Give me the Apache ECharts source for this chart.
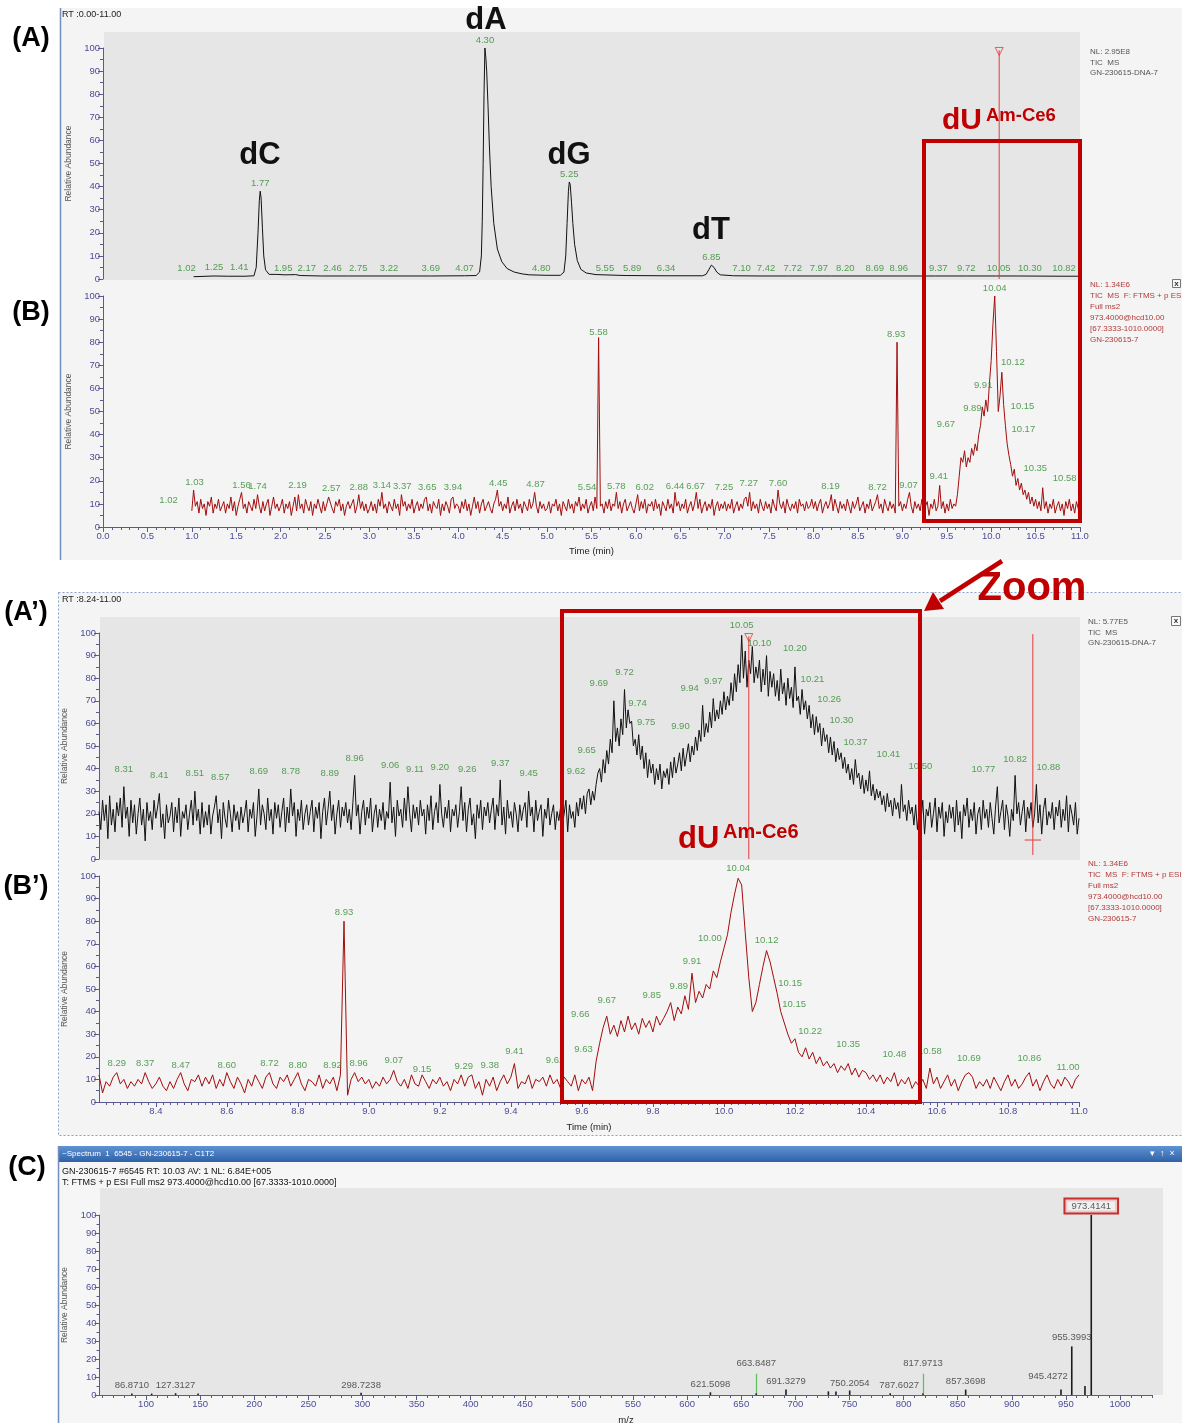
<!DOCTYPE html>
<html>
<head>
<meta charset="utf-8">
<script src="https://cdn.jsdelivr.net/npm/echarts@6/dist/echarts.min.js"></script>
<style>
  html, body { margin: 0; padding: 0; background: #fff; }
  #main { width: 1182px; height: 1423px; }
</style>
</head>
<body>
<div id="main"></div>
<script>
const FONT = '"Liberation Sans", Arial, Helvetica, sans-serif';

// ---- (A) TIC 0-11 min, [time, relative abundance] ----
const aTrace = [
  [1.02,1.0],[1.25,1.3],[1.41,1.2],[1.60,1.2],[1.70,1.4],[1.725,5],[1.745,20],[1.76,34],[1.77,38],[1.78,35],
  [1.795,22],[1.81,10],[1.83,4],[1.87,2.0],[1.95,2.0],[2.05,1.8],[2.17,1.9],[2.22,1.5],[2.46,1.3],[2.75,1.3],
  [3.22,1.3],[3.69,1.3],[4.07,1.4],[4.20,1.5],[4.24,3],[4.26,10],[4.27,25],[4.28,50],[4.29,80],[4.30,100],
  [4.31,96],[4.32,90],[4.335,75],[4.35,58],[4.37,40],[4.40,24],[4.44,13],[4.49,7.5],[4.55,4.5],[4.63,3],
  [4.72,2.2],[4.80,1.8],[5.00,1.6],[5.15,1.6],[5.19,3],[5.21,10],[5.225,24],[5.24,38],[5.25,42],[5.26,41],
  [5.275,33],[5.29,24],[5.31,15],[5.34,8],[5.38,4.2],[5.44,2.6],[5.55,1.9],[5.89,1.5],[6.34,1.4],[6.75,1.4],
  [6.79,2.0],[6.82,4],[6.85,6],[6.88,5],[6.91,3],[6.95,1.8],[7.10,1.4],[7.42,1.3],[7.72,1.3],[7.97,1.3],
  [8.20,1.3],[8.69,1.3],[8.96,1.3],[9.37,1.3],[9.72,1.3],[10.05,1.3],[10.30,1.3],[10.82,1.2],[11.0,1.2]
];
const aLabRT = [1.02,1.25,1.41,1.77,1.95,2.17,2.46,2.75,3.22,3.69,4.07,4.30,4.80,5.25,5.55,5.89,6.34,6.85,7.10,7.42,7.72,7.97,8.20,8.69,8.96,9.37,9.72,10.05,10.30,10.82];
const aLabH  = [1.3,1.6,1.6,38,1.3,1.3,1.3,1.3,1.3,1.3,1.3,100,1.3,42,1.3,1.3,1.3,6,1.3,1.3,1.3,1.3,1.3,1.3,1.3,1.3,1.3,1.3,1.3,1.3];
const aNudge = [-7,0,11,0,7,11,11,11,0,0,0,0,12,0,9,6,0,0,8,4,4,8,14,0,0,3,0,3,12,0];
const aCursor = 10.09;

// ---- (B) ms2 trace 1.00-11.00 min, one value every 0.02 min ----
const bStart = 1.00, bStep = 0.02;
const bValues = [
  7,16,9,11,6,12,8,10,5,11, 9,13,6,10,8,12,7,9,11,6, 10,8,13,7,11,5,9,12,15,8, 10,6,11,9,7,12,8,14,9,6, 11,7,10,12,5,9,13,8,10,7,
  9,12,6,10,8,11,5,9,13,7, 14,8,10,6,12,9,7,11,5,10, 8,12,9,6,11,7,10,13,13,8, 6,11,9,12,7,10,5,9,11,8, 10,12,6,9,14,8,11,7,10,6,
  8,11,7,10,6,12,9,15,8,10, 6,11,9,7,12,8,10,5,14,9, 11,7,10,8,12,6,9,11,7,10, 8,12,13,7,10,6,11,9,8,12, 5,10,7,11,9,6,12,13,8,10,
  9,6,11,8,12,7,10,5,9,13, 8,11,6,10,12,7,9,11,8,6, 10,12,16,9,11,7,10,8,13,6, 9,11,7,12,8,10,6,11,9,7, 12,8,10,15,9,6,11,8,10,7,
  8,11,6,10,9,12,7,10,5,11, 9,7,12,8,10,6,11,9,13,7, 10,8,12,6,9,11,7,13,8,82, 9,10,6,11,8,12,7,10,9,15, 8,11,6,10,12,7,9,11,8,6,
  10,14,7,11,8,12,6,10,9,11, 7,12,8,10,5,11,9,7,12,8, 10,6,15,9,11,7,10,8,12,6, 9,11,7,10,15,8,12,6,9,11, 7,10,8,12,5,9,11,7,10,8,
  11,7,10,8,12,6,9,11,7,10, 8,12,13,9,15,7,11,8,10,6, 12,9,7,11,8,10,6,12,9,7, 16,10,8,11,6,12,9,7,10,8, 11,6,12,9,10,7,11,8,9,12,
  8,11,7,10,12,6,9,11,8,10, 14,7,12,9,6,11,8,10,7,12, 9,6,11,8,10,13,7,9,11,6, 10,8,12,7,9,11,14,8,10,6, 12,9,7,11,8,10,6,80,9,11,
  7,10,8,12,15,9,6,11,8,10, 7,12,6,9,11,5,10,8,12,7, 9,18,8,11,6,10,7,12,8,10, 9,14,22,30,28,33,26,30,28,34, 31,36,33,40,44,52,48,55,50,62,
  72,88,100,76,50,57,67,53,44,36, 31,27,22,25,18,21,16,19,14,16, 12,15,10,13,9,12,8,11,7,17, 8,11,6,10,8,12,6,9,11,7, 10,5,11,8,12,7,10,6,11,8,
  4
];
const bLabRT = [1.02,1.03,1.56,1.74,2.19,2.57,2.88,3.14,3.37,3.65,3.94,4.45,4.87,5.54,5.58,5.78,6.02,6.44,6.67,7.25,7.27,7.60,8.19,8.72,8.93,9.07,9.41,9.67,9.89,9.91,10.04,10.12,10.15,10.17,10.35,10.58];
const bLabH  = [8.2,16,14.7,14.3,14.7,13.4,13.9,14.7,14.3,13.9,13.9,15.6,15.2,13.9,81,14.3,13.9,14.3,14.3,13.9,15.6,15.6,14.3,13.9,80,14.7,18.6,41,48,58,100,68,49,39,22,17.7];
const bNudge = [-25,0,0,0,0,0,0,0,0,0,0,0,0,-8,0,0,7,0,0,-23,0,0,0,0,0,0,0,-16,-9,0,0,11,18,17,13,22];

// ---- (A') TIC 8.24-11.00 min, one value every 0.005 min ----
const apStart = 8.24, apStep = 0.005;
const apValues = [
  21,13,26,17,24,9,28,15,22,12,25,19,27,14,32,18,23,10,26,16,
  24,11,20,27,15,22,8,25,17,21,13,26,18,23,29,14,20,9,24,16,
  19,25,12,23,16,27,10,21,18,24,13,20,26,15,30,17,22,11,25,14,
  21,15,24,11,19,23,28,16,22,9,25,18,14,26,20,12,24,17,21,13,
  23,16,20,26,12,22,18,25,10,19,31,15,24,20,13,27,17,22,11,25,
  18,24,14,21,27,12,23,16,31,19,25,10,22,17,26,13,20,24,15,21,
  26,12,23,18,25,9,21,27,15,22,30,17,24,11,20,26,14,23,19,25,
  16,22,13,25,37,19,24,11,21,26,15,23,18,27,12,20,24,14,22,17,
  25,13,21,18,34,16,23,10,26,19,22,14,27,17,32,20,12,24,18,23,
  15,26,19,22,11,24,17,28,13,21,25,16,33,20,14,23,18,26,12,22,
  19,24,14,21,32,17,25,12,22,27,15,20,9,24,18,26,13,23,19,25,
  16,22,27,13,24,19,35,15,23,11,26,18,21,14,25,20,12,24,17,22,
  25,14,30,19,23,12,26,17,21,24,10,22,18,27,15,20,24,13,21,17,
  23,15,20,26,12,24,18,21,14,25,19,27,22,28,20,29,31,24,30,26,
  33,38,40,34,44,38,48,42,53,47,70,52,58,50,62,55,75,58,66,60,
  61,50,53,46,55,44,50,40,47,36,44,38,42,33,40,35,42,31,39,36,
  40,33,43,36,45,38,42,47,39,49,41,46,51,43,50,46,54,48,57,52,
  68,54,60,56,65,58,71,61,66,62,70,64,74,66,72,68,78,70,82,74,
  86,78,99,80,92,76,88,82,94,78,85,80,88,74,84,77,90,72,83,76,
  82,72,79,70,84,73,78,68,80,71,76,67,85,70,72,64,75,66,70,62,
  68,58,64,55,63,56,60,50,58,52,55,47,54,46,52,43,49,44,47,40,
  45,38,42,35,40,33,44,36,38,31,37,29,35,30,39,28,33,26,31,27,
  30,24,28,21,29,23,26,19,27,22,25,18,33,21,24,17,26,20,23,15,
  24,13,21,17,26,11,22,19,25,14,20,27,12,23,18,25,10,21,16,24,
  18,23,12,26,15,21,9,24,19,27,14,22,17,25,11,20,23,13,26,18,
  22,14,25,18,11,23,32,16,21,26,13,24,19,10,22,17,37,20,25,15,
  21,26,12,23,18,25,14,20,33,16,24,11,22,27,15,21,18,25,13,23,
  19,26,14,22,17,28,12,24,20,15,25,11,18
];
const apLabRT = [8.31,8.41,8.51,8.57,8.69,8.78,8.89,8.96,9.06,9.11,9.20,9.26,9.37,9.45,9.62,9.65,9.69,9.72,9.74,9.75,9.90,9.94,9.97,10.05,10.10,10.20,10.21,10.26,10.30,10.37,10.41,10.50,10.77,10.82,10.88];
const apLabH  = [36.3,33.6,34.5,32.7,35.4,35.4,34.5,41.2,38.1,36.3,37.2,36.3,38.9,34.5,35.4,44.7,74.3,79.2,65.5,57.1,55.3,72.1,75.2,100,92,89.8,76.1,67.3,58,48.2,42.9,37.6,36.3,40.7,37.2];
const apNudge = [0,0,0,4,0,0,0,0,0,7,0,6,0,0,-13,-13,-15,0,6,11,-8,-13,0,0,0,0,14,13,11,0,19,19,-14,0,12];
const apCursors = [10.07, 10.87];

// ---- (B') ms2 trace 8.24-11.00 min, one value every 0.01 min ----
const bpStart = 8.24, bpStep = 0.01;
const bpValues = [
  12,4,9,7,11,13,8,10,6,9,  7,10,8,13,9,6,8,11,7,5,  9,6,10,13,8,5,10,9,12,7,  11,8,12,6,10,7,13,9,6,11,
  8,4,10,7,12,9,6,11,13,8,  6,11,9,12,7,10,13,8,5,10,  9,7,12,6,10,8,11,5,12,80,  3,10,13,9,11,8,10,6,9,7,
  11,8,10,14,9,7,10,6,12,8,  7,12,9,6,10,8,11,7,9,5,  10,8,12,7,11,12,6,9,3,10,  7,11,5,9,12,8,11,17,6,9,
  8,12,6,10,9,11,7,12,8,10,  6,11,9,7,12,5,10,8,11,5,  18,26,33,38,30,34,29,36,31,38,  32,35,30,37,33,36,31,38,34,37,
  40,44,36,42,39,47,41,57,44,49,  46,52,50,58,55,62,68,74,84,92,  99,96,75,55,40,44,52,60,67,62,  55,48,40,35,30,26,28,22,20,24,
  19,22,17,20,16,18,15,17,13,16,  14,17,12,15,11,14,13,10,12,9,  12,8,11,9,13,7,10,8,11,6,  9,7,10,6,15,8,11,6,9,12,
  7,10,5,9,12,13,11,6,9,7,  10,6,11,8,5,9,12,7,10,6,  8,11,13,7,10,5,9,12,8,6,  10,7,11,9,6,10,12
];
const bpLabRT = [8.29,8.37,8.47,8.60,8.72,8.80,8.92,8.93,8.96,9.07,9.15,9.29,9.38,9.41,9.62,9.63,9.66,9.67,9.85,9.89,9.91,10.00,10.04,10.12,10.15,10.15,10.22,10.35,10.48,10.58,10.69,10.86,11.00];
const bpLabH  = [13.7,13.7,12.8,12.8,13.7,12.8,12.8,80.5,13.7,15,11.1,12.4,12.8,19,15,19.9,35.4,41.6,43.8,47.8,58.8,69,100,68.1,49.1,39.8,27.9,22.1,17.7,19,15.9,15.9,11.9];
const bpNudge = [0,0,0,0,0,0,-8,0,4,0,0,-8,-14,0,-34,-9,-23,0,-19,-6,0,-14,0,0,13,17,8,0,0,0,0,0,-11];

// ---- (C) ms2 spectrum ----
const cMz  = [86.871,105.2,127.3127,148.1,298.7238,621.5098,663.8487,691.3279,730.5,737.5,750.2054,787.6027,817.9713,857.3698,945.4272,955.3993,967.6,973.4141];
const cInt = [0.8,0.8,1.0,0.8,1.2,1.5,1.0,3.0,2.0,2.0,2.5,1.0,1.0,3.0,3.0,27,5,100];
const cLabMz = [86.8710,127.3127,298.7238,621.5098,663.8487,691.3279,750.2054,787.6027,817.9713,857.3698,945.4272,955.3993,973.4141];
const cLabH  = [1.2,1.2,1.2,1.6,13.3,3.2,2.2,1.2,13.3,3.2,6.1,27.8,100];
const cNudge = [0,0,0,0,0,0,0,9,0,0,-13,0,0];
const cBase = 973.4141;

// axis tick positions
const bpLabelTicks = [8.4,8.6,8.8,9.0,9.2,9.4,9.6,9.8,10.0,10.2,10.4,10.6,10.8,11.0];
const bpMinorTicks = [];
for (let v = 826; v <= 1100; v += 2) bpMinorTicks.push(v / 100);
const cLabelTicks = [];
for (let v = 100; v <= 1000; v += 50) cLabelTicks.push(v);
const cMinorTicks = [];
for (let v = 60; v <= 1030; v += 10) cMinorTicks.push(v);

const AXC = '#5a5a90';
const LABC = '#4c4c96';
const GREEN = '#2f8a2f';
const TRACE_RED = '#a20d0d';
const CURSOR = '#e23b3b';

const series = (start, step, vals) => vals.map((v, i) => [+(start + i * step).toFixed(3), v]);

function yAxis(grid, gap) {
  return {
    type: 'value', gridIndex: grid, min: 0, max: 100, interval: 10,
    name: 'Relative Abundance', nameLocation: 'middle', nameGap: gap, nameRotate: 90,
    nameTextStyle: { fontSize: 8.5, color: '#555', fontFamily: FONT },
    axisLine: { show: true, lineStyle: { color: AXC, width: 1 } },
    axisTick: { show: true, length: 5, lineStyle: { color: AXC } },
    minorTick: { show: true, splitNumber: 2, length: 3, lineStyle: { color: AXC } },
    axisLabel: { color: LABC, fontSize: 9.5, fontFamily: FONT, margin: 3 },
    splitLine: { show: false }, minorSplitLine: { show: false }
  };
}

function bareX(grid, min, max) {
  return {
    type: 'value', gridIndex: grid, min, max, position: 'bottom',
    axisLine: { show: false }, axisTick: { show: false }, axisLabel: { show: false },
    splitLine: { show: false }
  };
}

function labels(xi, yi, rts, hs, nudge, color, digits, extra) {
  return {
    type: 'scatter', xAxisIndex: xi, yAxisIndex: yi, symbolSize: 1, silent: true, z: 6, clip: false,
    itemStyle: { color: 'rgba(0,0,0,0)' },
    data: rts.map((t, i) => {
      const item = { value: [t, hs[i]], label: { offset: [nudge[i] || 0, 0] } };
      if (extra) extra(t, item);
      return item;
    }),
    label: {
      show: true, position: 'top', distance: 2, color, fontSize: 9.5, fontFamily: FONT,
      formatter: p => p.value[0].toFixed(digits)
    }
  };
}

function trace(xi, yi, data, color, z) {
  return {
    type: 'line', xAxisIndex: xi, yAxisIndex: yi, data, symbol: 'none', showSymbol: false,
    lineStyle: { color, width: 1 }, itemStyle: { color }, silent: true, z: z || 3
  };
}

// cursor segments in the chromatograms
function cursorSeries(xi, yi, segs) {
  return segs.map(s => trace(xi, yi, s, CURSOR, 4));
}

// leader lines in the spectrum, from a peak up to its raised label
const cLeaders = [];
cLabMz.forEach((m, i) => {
  const k = cMz.indexOf(m);
  const peak = k >= 0 ? cInt[k] : 0;
  if (cLabH[i] - peak > 5 && !cNudge[i]) {
    cLeaders.push([{ coord: [m, peak] }, { coord: [m, cLabH[i] - 1.5] }]);
  }
});

const txt = (x, y, text, font, fill, align, extra) => Object.assign({
  type: 'text', x, y, z: 50,
  style: { text, font, fill, align: align || 'left', verticalAlign: 'middle' }
}, extra || {});

const infoA = 'NL: 2.95E8\nTIC  MS\nGN-230615-DNA-7';
const infoB = 'NL: 1.34E6\nTIC  MS  F: FTMS + p ESI\nFull ms2\n973.4000@hcd10.00\n[67.3333-1010.0000]\nGN-230615-7';
const infoAp = 'NL: 5.77E5\nTIC  MS\nGN-230615-DNA-7';

const RED = '#c00000';
const small = '8px ' + FONT;

const graphics = [
  // panel (A)+(B)
  { type: 'rect', z: -10, shape: { x: 61, y: 8, width: 1121, height: 552 }, style: { fill: '#f4f4f4' } },
  { type: 'line', z: -9, shape: { x1: 60.5, y1: 8, x2: 60.5, y2: 560 }, style: { stroke: '#7190c0', lineWidth: 1.5 } },
  { type: 'rect', z: -9, shape: { x: 104, y: 32, width: 976, height: 248 }, style: { fill: '#e6e6e6' } },
  // panel (A')+(B')
  { type: 'rect', z: -10, shape: { x: 58.5, y: 592.5, width: 1124, height: 543 }, style: { fill: '#f4f4f4', stroke: '#8aa3cc', lineWidth: 1, lineDash: [2, 2] } },
  { type: 'rect', z: -9, shape: { x: 100, y: 617, width: 980, height: 243 }, style: { fill: '#e6e6e6' } },
  // panel (C)
  { type: 'rect', z: -10, shape: { x: 58, y: 1162, width: 1124, height: 261 }, style: { fill: '#f6f6f6' } },
  { type: 'rect', z: -9, shape: { x: 58, y: 1146, width: 1124, height: 16 }, style: {
      fill: new echarts.graphic.LinearGradient(0, 0, 0, 1, [{ offset: 0, color: '#5f93d3' }, { offset: 1, color: '#2f61a8' }]) } },
  { type: 'line', z: -9, shape: { x1: 58.5, y1: 1146, x2: 58.5, y2: 1423 }, style: { stroke: '#7190c0', lineWidth: 1.5 } },
  { type: 'rect', z: -9, shape: { x: 100, y: 1188, width: 1063, height: 207 }, style: { fill: '#e6e6e6' } },

  // header texts
  txt(62, 15, 'RT :0.00-11.00', '9px ' + FONT, '#222'),
  txt(62, 600, 'RT :8.24-11.00', '9px ' + FONT, '#222'),
  txt(62, 1154, '~Spectrum  1  6545 - GN-230615-7 - C1T2', small, '#fff'),
  txt(1150, 1154, '\u25BE  \u2191  \u00D7', '9px ' + FONT, '#fff'),
  txt(62, 1172, 'GN-230615-7 #6545 RT: 10.03 AV: 1 NL: 6.84E+005', '9px ' + FONT, '#111'),
  txt(62, 1183, 'T: FTMS + p ESI Full ms2 973.4000@hcd10.00 [67.3333-1010.0000]', '9px ' + FONT, '#111'),

  // info blocks
  { type: 'text', x: 1090, y: 47, z: 50, style: { text: infoA, font: small, fill: '#555', lineHeight: 10.5 } },
  { type: 'text', x: 1090, y: 279, z: 50, style: { text: infoB, font: small, fill: '#b13a3a', lineHeight: 11 } },
  { type: 'text', x: 1088, y: 617, z: 50, style: { text: infoAp, font: small, fill: '#555', lineHeight: 10.5 } },
  { type: 'text', x: 1088, y: 858, z: 50, style: { text: infoB, font: small, fill: '#b13a3a', lineHeight: 11 } },
  { type: 'rect', z: 50, shape: { x: 1172.5, y: 279.5, width: 8, height: 8 }, style: { fill: '#f8f8f8', stroke: '#777', lineWidth: 1 } },
  txt(1176.5, 284, 'x', 'bold 8px ' + FONT, '#333', 'center'),
  { type: 'rect', z: 50, shape: { x: 1171.5, y: 616.5, width: 9, height: 9 }, style: { fill: '#f8f8f8', stroke: '#777', lineWidth: 1 } },
  txt(1176, 621, 'x', 'bold 8px ' + FONT, '#333', 'center'),

  // panel letters
  txt(31, 39, '(A)', 'bold 27px ' + FONT, '#000', 'center'),
  txt(31, 313, '(B)', 'bold 27px ' + FONT, '#000', 'center'),
  txt(26, 613, '(A\u2019)', 'bold 27px ' + FONT, '#000', 'center'),
  txt(26, 887, '(B\u2019)', 'bold 27px ' + FONT, '#000', 'center'),
  txt(27, 1168, '(C)', 'bold 27px ' + FONT, '#000', 'center'),

  // nucleoside names
  txt(260, 155, 'dC', 'bold 31px ' + FONT, '#111', 'center'),
  txt(486, 20, 'dA', 'bold 31px ' + FONT, '#111', 'center'),
  txt(569, 155, 'dG', 'bold 31px ' + FONT, '#111', 'center'),
  txt(711, 230, 'dT', 'bold 31px ' + FONT, '#111', 'center'),

  // dU(Am-Ce6) labels
  txt(942, 121, 'dU', 'bold 30px ' + FONT, RED, 'left'),
  txt(986, 116, 'Am-Ce6', 'bold 18.5px ' + FONT, RED, 'left'),
  txt(678, 839, 'dU', 'bold 31px ' + FONT, RED, 'left'),
  txt(723, 832, 'Am-Ce6', 'bold 20px ' + FONT, RED, 'left'),

  // red boxes, arrow, zoom
  { type: 'rect', z: 60, shape: { x: 924, y: 141, width: 156, height: 380 }, style: { fill: 'none', stroke: RED, lineWidth: 4 } },
  { type: 'rect', z: 60, shape: { x: 562, y: 611, width: 358, height: 491 }, style: { fill: 'none', stroke: RED, lineWidth: 4 } },
  { type: 'line', z: 60, shape: { x1: 1002, y1: 561, x2: 940, y2: 601 }, style: { stroke: RED, lineWidth: 4.5 } },
  { type: 'polygon', z: 60, shape: { points: [[924, 611], [944, 609], [933, 592]] }, style: { fill: RED } },
  txt(1032, 589, 'Zoom', 'bold 40px ' + FONT, RED, 'center')
];

const option = {
  animation: false,
  backgroundColor: '#ffffff',
  textStyle: { fontFamily: FONT },
  graphic: { elements: graphics },
  grid: [
    { left: 103, top: 48, width: 977, height: 231, outerBoundsMode: 'none' },
    { left: 103, top: 296, width: 977, height: 231, outerBoundsMode: 'none' },
    { left: 99, top: 633, width: 980, height: 226, outerBoundsMode: 'none' },
    { left: 99, top: 876, width: 980, height: 226, outerBoundsMode: 'none' },
    { left: 99.5, top: 1215, width: 1053, height: 180, outerBoundsMode: 'none' }
  ],
  xAxis: [
    bareX(0, 0, 11),
    {
      type: 'value', gridIndex: 1, min: 0, max: 11, interval: 0.5,
      name: 'Time (min)', nameLocation: 'middle', nameGap: 19,
      nameTextStyle: { fontSize: 9.5, color: '#222', fontFamily: FONT },
      axisLine: { lineStyle: { color: AXC } },
      axisTick: { length: 5, lineStyle: { color: AXC } },
      minorTick: { show: true, splitNumber: 5, length: 3, lineStyle: { color: AXC } },
      axisLabel: { color: LABC, fontSize: 9.5, fontFamily: FONT, margin: 4, formatter: v => v.toFixed(1) },
      splitLine: { show: false }, minorSplitLine: { show: false }
    },
    bareX(2, 8.24, 11),
    {
      type: 'value', gridIndex: 3, min: 8.24, max: 11, position: 'bottom',
      name: 'Time (min)', nameLocation: 'middle', nameGap: 20,
      nameTextStyle: { fontSize: 9.5, color: '#222', fontFamily: FONT },
      axisLine: { lineStyle: { color: AXC } },
      axisTick: { length: 5, customValues: bpLabelTicks, lineStyle: { color: AXC } },
      axisLabel: { color: LABC, fontSize: 9.5, fontFamily: FONT, margin: 4, customValues: bpLabelTicks, formatter: v => v.toFixed(1) },
      splitLine: { show: false }
    },
    {
      type: 'value', gridIndex: 3, min: 8.24, max: 11, position: 'bottom',
      axisLine: { show: false }, axisLabel: { show: false },
      axisTick: { length: 3, customValues: bpMinorTicks, lineStyle: { color: AXC } },
      splitLine: { show: false }
    },
    {
      type: 'value', gridIndex: 4, min: 57, max: 1030, position: 'bottom',
      name: 'm/z', nameLocation: 'middle', nameGap: 20,
      nameTextStyle: { fontSize: 9.5, color: '#222', fontFamily: FONT },
      axisLine: { lineStyle: { color: AXC } },
      axisTick: { length: 5, customValues: cLabelTicks, lineStyle: { color: AXC } },
      axisLabel: { color: LABC, fontSize: 9.5, fontFamily: FONT, margin: 4, customValues: cLabelTicks, formatter: v => String(v) },
      splitLine: { show: false }
    },
    {
      type: 'value', gridIndex: 4, min: 57, max: 1030, position: 'bottom',
      axisLine: { show: false }, axisLabel: { show: false },
      axisTick: { length: 3, customValues: cMinorTicks, lineStyle: { color: AXC } },
      splitLine: { show: false }
    }
  ],
  yAxis: [yAxis(0, 30), yAxis(1, 30), yAxis(2, 30), yAxis(3, 30), yAxis(4, 30)],
  series: [
    trace(0, 0, aTrace, '#111'),
    ...cursorSeries(0, 0, [[[aCursor, 0], [aCursor, 99]]]),
    labels(0, 0, aLabRT, aLabH, aNudge, GREEN, 2),
    {
      type: 'scatter', xAxisIndex: 0, yAxisIndex: 0, symbol: 'triangle', symbolRotate: 180, symbolSize: 8, silent: true, z: 7,
      itemStyle: { color: 'rgba(0,0,0,0)', borderColor: CURSOR, borderWidth: 1 },
      data: [[aCursor, 98.5]]
    },
    trace(1, 1, series(bStart, bStep, bValues), TRACE_RED),
    labels(1, 1, bLabRT, bLabH, bNudge, GREEN, 2),
    trace(2, 2, series(apStart, apStep, apValues), '#111'),
    ...cursorSeries(2, 2, [
      [[apCursors[0], 0], [apCursors[0], 98.5]],
      [[apCursors[1], 1.8], [apCursors[1], 99.5]],
      [[apCursors[1] - 0.023, 8.4], [apCursors[1] + 0.023, 8.4]]
    ]),
    labels(2, 2, apLabRT, apLabH, apNudge, GREEN, 2),
    {
      type: 'scatter', xAxisIndex: 2, yAxisIndex: 2, symbol: 'triangle', symbolRotate: 180, symbolSize: 8, silent: true, z: 7,
      itemStyle: { color: 'rgba(0,0,0,0)', borderColor: CURSOR, borderWidth: 1 },
      data: [[apCursors[0], 98]]
    },
    trace(3, 3, series(bpStart, bpStep, bpValues), TRACE_RED),
    labels(3, 3, bpLabRT, bpLabH, bpNudge, GREEN, 2),
    {
      type: 'bar', xAxisIndex: 5, yAxisIndex: 4, barWidth: 1.6, silent: true, z: 3,
      itemStyle: { color: '#1c1c1c' },
      data: cMz.map((m, i) => [m, cInt[i]]),
      markLine: {
        silent: true, symbol: 'none', label: { show: false },
        lineStyle: { color: '#5fc45f', width: 1.3, type: 'solid' },
        data: cLeaders
      }
    },
    labels(5, 4, cLabMz, cLabH, cNudge, '#333', 4, (m, item) => {
      if (m === cBase) {
        item.label.borderColor = RED;
        item.label.borderWidth = 2;
        item.label.padding = [2, 6, 1, 6];
        item.label.backgroundColor = '#f2f2f2';
      }
    })
  ]
};

const chart = echarts.init(document.getElementById('main'), null, { renderer: 'canvas' });
chart.setOption(option);
</script>
</body>
</html>
